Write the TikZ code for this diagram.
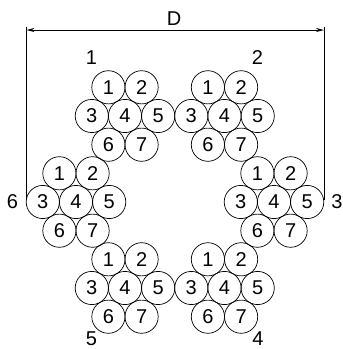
\documentclass[tikz,border=0pt]{standalone}
\usepackage{fontspec}
\setmainfont{Liberation Sans}
\usetikzlibrary{arrows.meta}
\tikzset{
  strand/.style={circle,draw=black,line width=0.7pt,minimum size=33.2pt,inner sep=0pt,font=\fontsize{20}{20}\selectfont},
  lab/.style={inner sep=0pt,font=\fontsize{20}{20}\selectfont},
  dimline/.style={draw=black,line width=0.9pt},
  dimarrow/.style={draw=black,line width=0.9pt,{Stealth[length=8pt,width=4pt,black]}-{Stealth[length=8pt,width=4pt,black]}}
}
\begin{document}
\begin{tikzpicture}[x=1pt,y=-1pt]
\useasboundingbox (0,0) rectangle (343,349);
\foreach \c/\x/\y in {1/125/116,2/224.5/116,3/274/202,4/224.5/288,5/125/288,6/76/202}{
  \node[strand] (c\c n1) at (\x-16.6,\y-28.7) {1};
  \node[strand] (c\c n2) at (\x+16.6,\y-28.7) {2};
  \node[strand] (c\c n3) at (\x-33.2,\y) {3};
  \node[strand] (c\c n4) at (\x,\y) {4};
  \node[strand] (c\c n5) at (\x+33.2,\y) {5};
  \node[strand] (c\c n6) at (\x-16.6,\y+28.7) {6};
  \node[strand] (c\c n7) at (\x+16.6,\y+28.7) {7};
}
\node[lab] (l1) at (91.5,58) {1};
\node[lab] (l2) at (257.5,58) {2};
\node[lab] (l3) at (337,202) {3};
\node[lab] (l4) at (258,339) {4};
\node[lab] (l5) at (91.5,339) {5};
\node[lab] (l6) at (12.5,202) {6};
\node[lab] (lD) at (174,19) {D};
\coordinate (dl) at (26.5,30);
\coordinate (dr) at (324,30);
\coordinate (dlt) at (26.5,27);
\coordinate (drt) at (324,27);
\coordinate (dlb) at (26.5,200);
\coordinate (drb) at (324,200);
\draw[dimarrow] (dl) -- (dr);
\draw[dimline] (dlt) -- (dlb);
\draw[dimline] (drt) -- (drb);
\end{tikzpicture}
\end{document}
